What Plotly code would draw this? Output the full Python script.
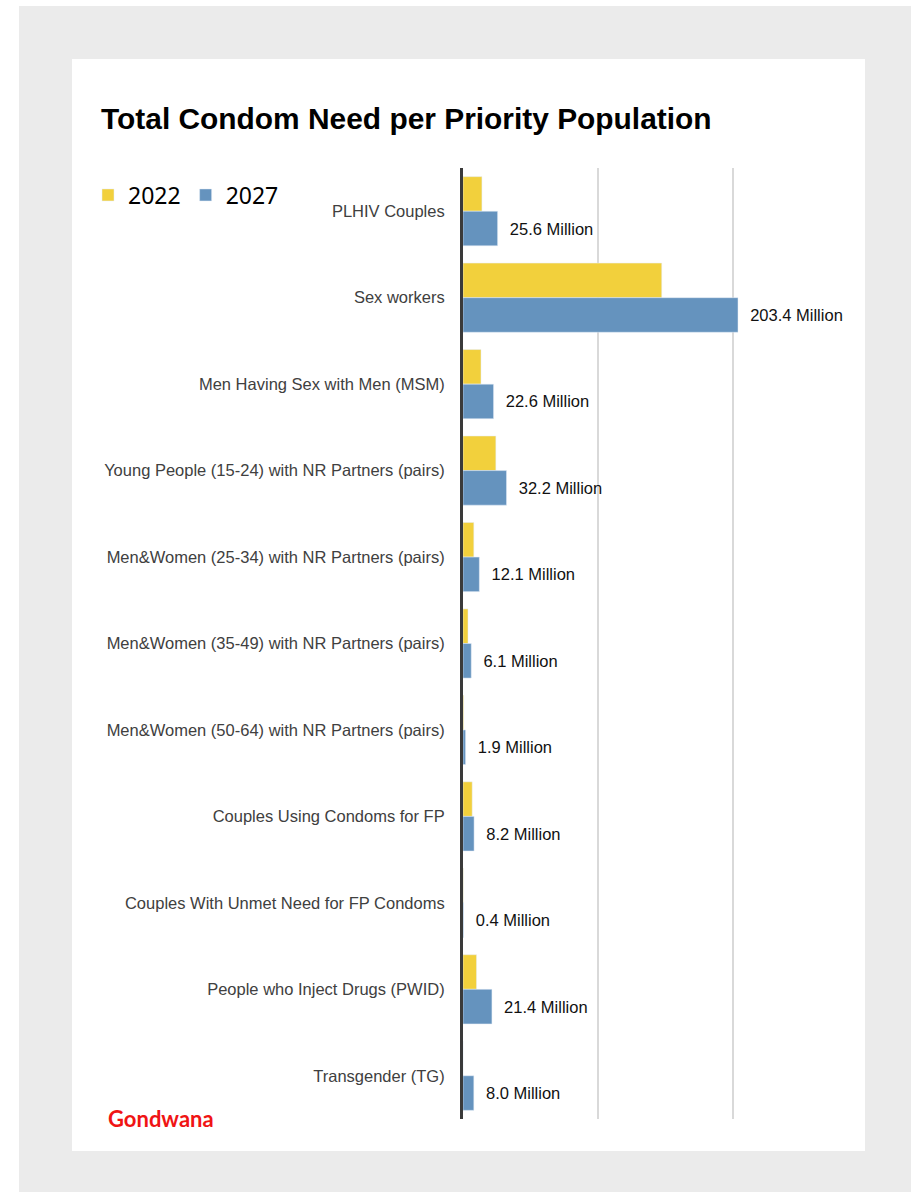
import plotly.graph_objects as go

categories = [
    "PLHIV Couples",
    "Sex workers",
    "Men Having Sex with Men (MSM)",
    "Young People (15-24) with NR Partners (pairs)",
    "Men&Women (25-34) with NR Partners (pairs)",
    "Men&Women (35-49) with NR Partners (pairs)",
    "Men&Women (50-64) with NR Partners (pairs)",
    "Couples Using Condoms for FP",
    "Couples With Unmet Need for FP Condoms",
    "People who Inject Drugs (PWID)",
    "Transgender (TG)",
]
values_2022 = [14.0, 147.0, 13.3, 24.3, 8.0, 3.7, 0.5, 6.8, 0.2, 10.0, 0.0]
values_2027 = [25.6, 203.4, 22.6, 32.2, 12.1, 6.1, 1.9, 8.2, 0.4, 21.4, 8.0]

W, H = 911, 1192
ML, MR, MT, MB = 463, 110, 168, 73
PW, PH = W - ML - MR, H - MT - MB


def px(x):
    return (x - ML) / PW


def py(y):
    return (H - MB - y) / PH


SANS = "Liberation Sans, Arial, sans-serif"

fig = go.Figure()
fig.add_trace(go.Bar(
    y=categories, x=values_2022, name="2022", orientation="h",
    marker=dict(color="#F2D03C"),
    hoverinfo="x+y",
))
fig.add_trace(go.Bar(
    y=categories, x=values_2027, name="2027", orientation="h",
    marker=dict(color="#6593BE"),
    text=["  %.1f Million" % v for v in values_2027],
    textposition="outside", cliponaxis=False, constraintext="none",
    textfont=dict(family=SANS, size=16.5, color="#111111"),
))

shapes = [
    dict(type="rect", xref="paper", yref="paper", layer="below",
         x0=px(19), x1=px(911), y0=py(6), y1=py(1192),
         fillcolor="#EBEBEB", line=dict(width=0)),
    dict(type="rect", xref="paper", yref="paper", layer="below",
         x0=px(72), x1=px(865), y0=py(59), y1=py(1151),
         fillcolor="#FFFFFF", line=dict(width=0)),
]

annotations = [
    dict(text="<b>Total Condom Need per Priority Population</b>",
         xref="paper", yref="paper", x=px(99), y=py(118),
         xanchor="left", yanchor="middle", showarrow=False,
         font=dict(family=SANS, size=29.9, color="#000000")),
    dict(text="<b>Gondwana</b>",
         xref="paper", yref="paper", x=px(106), y=py(1118),
         xanchor="left", yanchor="middle", showarrow=False,
         font=dict(family="Lato, Roboto, sans-serif", size=22, color="#F01414")),
]

fig.update_layout(
    width=W, height=H, autosize=False,
    margin=dict(l=ML, r=MR, t=MT, b=MB, pad=0),
    paper_bgcolor="#FFFFFF", plot_bgcolor="rgba(0,0,0,0)",
    barmode="group", bargap=0.2, bargroupgap=0,
    shapes=shapes, annotations=annotations,
    legend=dict(orientation="h", x=px(88), y=py(195), xanchor="left", yanchor="middle",
                font=dict(family="Noto Sans, sans-serif", size=23, color="#000000"),
                bgcolor="rgba(0,0,0,0)", itemwidth=30, traceorder="normal"),
    xaxis=dict(range=[0, 250], dtick=100, tick0=0, showticklabels=False,
               showgrid=True, gridcolor="#D9D9D9", gridwidth=1.5,
               zeroline=False, showline=False, fixedrange=True),
    yaxis=dict(autorange="reversed", showgrid=False, zeroline=False,
               showline=True, linecolor="#3A3A3A", linewidth=3, layer="above traces",
               ticks="", ticklabelstandoff=12,
               tickfont=dict(family=SANS, size=16.5, color="#404040"),
               fixedrange=True),
    showlegend=True,
)

fig.write_html("out.html")
